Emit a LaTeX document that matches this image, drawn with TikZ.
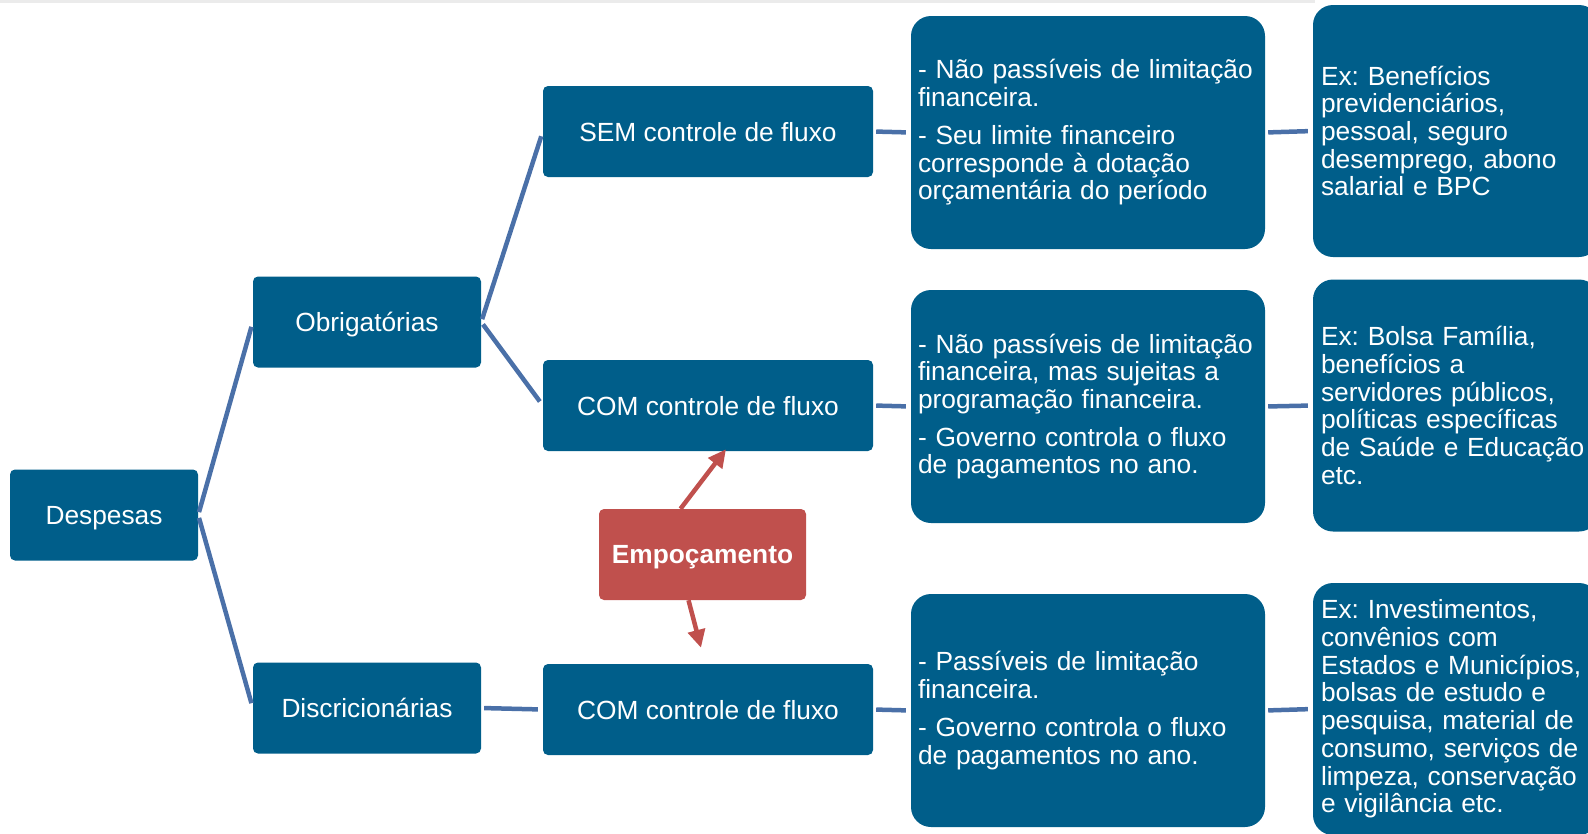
\documentclass[tikz,border=0pt]{standalone}
\usepackage{fontspec}
\setmainfont{Liberation Sans}
\usetikzlibrary{arrows.meta}
\frenchspacing
\definecolor{boxblue}{RGB}{0,94,138}
\definecolor{linkblue}{RGB}{74,112,168}
\definecolor{pushred}{RGB}{192,80,77}
\tikzset{
  tile/.style={fill=boxblue, text=white, rounded corners=5pt, minimum height=91pt,
    inner sep=0pt, font=\fontsize{26.3}{27.7}\selectfont},
  box/.style={tile, text depth=0pt},
  txtbox/.style={tile, rounded corners=20pt, minimum height=233pt,
    text width=340pt, inner xsep=7pt, align=left},
  exbox/.style={tile, rounded corners=20pt, minimum height=252pt,
    text width=270pt, inner xsep=8pt, align=left},
  link/.style={draw=linkblue, line width=4.5pt, shorten <=3pt, shorten >=5pt},
  push/.style={draw=pushred, line width=4.5pt, -{Triangle[length=18pt,width=17pt]}}
}
\begin{document}
\begin{tikzpicture}[x=1pt,y=-1pt]
\useasboundingbox (0,0) rectangle (1588,833);
\clip (0,0) rectangle (1588,833);
\fill [black!8] (0,0) rectangle (1315,3);

% tree
\node [box, minimum width=188pt] (desp) at (104,515) {Despesas};
\node [box, minimum width=228pt] (obrig) at (367,322) {Obrigatórias};
\node [box, minimum width=228pt] (discr) at (367,708) {Discricionárias};
\node [box, minimum width=330pt] (sem) at (708,131.5) {SEM controle de fluxo};
\node [box, minimum width=330pt] (comA) at (708,405.5) {COM controle de fluxo};
\node [box, minimum width=330pt] (comB) at (708,709.5) {COM controle de fluxo};

% descriptions
\node [txtbox] (txtA) at (1088,132.5) {- Não passíveis de limitação\\ financeira.\\[10pt]
  - Seu limite financeiro\\ corresponde à dotação\\ orçamentária do período};
\node [txtbox] (txtB) at (1088,406.5) {- Não passíveis de limitação\\ financeira, mas sujeitas a\\
  programação financeira.\\[10pt] - Governo controla o fluxo\\ de pagamentos no ano.};
\node [txtbox] (txtC) at (1088,710.5) {- Passíveis de limitação\\ financeira.\\[10pt]
  - Governo controla o fluxo\\ de pagamentos no ano.};

% examples
\node [exbox] (exA) at (1456,131) {Ex: Benefícios\\ previdenciários,\\ pessoal, seguro\\
  desemprego, abono\\ salarial e BPC};
\node [exbox] (exB) at (1456,405.5) {Ex: Bolsa Família,\\ benefícios a\\ servidores públicos,\\
  políticas específicas\\ de Saúde e Educação\\ etc.};
\node [exbox] (exC) at (1456,709) {Ex: Investimentos,\\ convênios com\\ Estados e Municípios,\\
  bolsas de estudo e\\ pesquisa, material de\\ consumo, serviços de\\ limpeza, conservação\\
  e vigilância etc.};

\node [box, fill=pushred, minimum width=207pt,
  font={\fontsize{26.3}{27.7}\selectfont\bfseries}] (empo) at (702.5,554.5) {Empoçamento};

\draw [link] (desp.east) -- (obrig.west);
\draw [link] (desp.east) -- (discr.west);
\draw [link] (obrig.east) -- (sem.west);
\draw [link] (obrig.east) -- (comA.west);
\draw [link] (discr.east) -- (comB.west);
\draw [link] (sem.east) -- (txtA.west);
\draw [link] (comA.east) -- (txtB.west);
\draw [link] (comB.east) -- (txtC.west);
\draw [link] (txtA.east) -- (exA.west);
\draw [link] (txtB.east) -- (exB.west);
\draw [link] (txtC.east) -- (exC.west);

\draw [push] ([xshift=-22pt]empo.north) -- ([xshift=18pt,yshift=2pt]comA.south);
\draw [push] ([xshift=-14pt]empo.south) -- ([xshift=-7pt,yshift=16pt]comB.north);
\end{tikzpicture}
\end{document}
